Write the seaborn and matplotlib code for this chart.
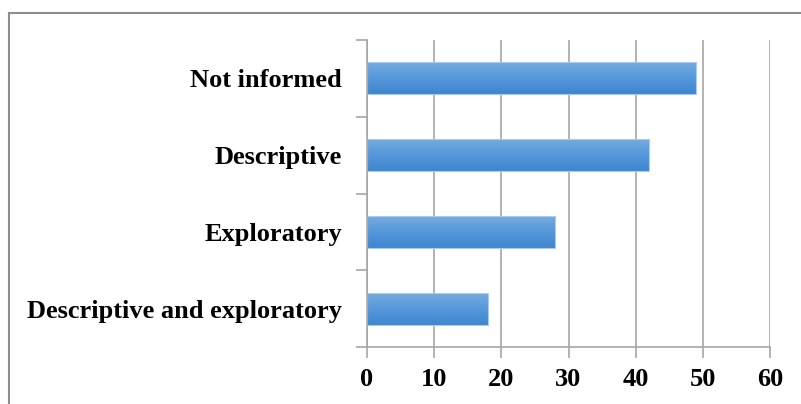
import numpy as np
import pandas as pd
import matplotlib
matplotlib.use("Agg")
import matplotlib.pyplot as plt
from matplotlib.patches import Rectangle
from matplotlib.colors import LinearSegmentedColormap
import seaborn as sns

categories = ["Not informed", "Descriptive", "Exploratory", "Descriptive and exploratory"]
counts = [49, 42, 28, 18]
x_ticks = [0, 10, 20, 30, 40, 50, 60]

df = pd.DataFrame({"category": categories, "count": counts})

sns.set_theme(style="white")
plt.rcParams["font.family"] = ["Liberation Serif", "DejaVu Serif"]

fig = plt.figure(figsize=(8.01, 4.04), dpi=100)
ax = fig.add_axes([367 / 801, 1 - 347 / 404, (770 - 367) / 801, (347 - 40) / 404])

grid_col = "#a6a6a6"
sns.barplot(data=df, x="count", y="category", orient="h", ax=ax,
            color="#4f94d8", width=0.42, edgecolor="#a9cbee", linewidth=0.8,
            saturation=1)

# vertical gradient on each bar, lighter on top
grad = LinearSegmentedColormap.from_list("bar", ["#77acdf", "#5698da", "#3f86cf"])
g = np.linspace(0, 1, 64).reshape(-1, 1)
for p in ax.patches:
    x0, y0 = p.get_x(), p.get_y()
    w, h = p.get_width(), p.get_height()
    im = ax.imshow(g, cmap=grad, aspect="auto", extent=(x0, x0 + w, y0 + h, y0),
                   zorder=p.get_zorder() + 0.1, interpolation="bilinear")
    im.set_clip_path(p)
    p.set_zorder(p.get_zorder() + 0.2)
    p.set_facecolor("none")

ax.set_xlim(0, 60)
ax.set_ylim(len(categories) - 0.5, -0.5)
ax.set_xticks(x_ticks)
ax.set_xticklabels([str(t) for t in x_ticks], fontsize=19, fontweight="bold")
ax.set_yticks(range(len(categories)))
ax.set_yticklabels(categories, fontsize=19, fontweight="bold")
ax.set_yticks(np.arange(-0.5, len(categories), 1.0), minor=True)
ax.set_xlabel("")
ax.set_ylabel("")

ax.xaxis.grid(True, color=grid_col, linewidth=1.2)
ax.yaxis.grid(False)
ax.set_axisbelow(True)

for side in ["top", "right"]:
    ax.spines[side].set_visible(False)
for side in ["left", "bottom"]:
    ax.spines[side].set_color(grid_col)
    ax.spines[side].set_linewidth(1.2)

ax.tick_params(axis="y", which="major", length=0, pad=18, colors="black")
ax.tick_params(axis="y", which="minor", left=True, length=8, width=1.2, color=grid_col)
ax.tick_params(axis="x", which="major", bottom=True, length=8, width=1.2,
               color=grid_col, labelcolor="black", pad=7)

# chart frame
fig.patches.append(Rectangle((8.5 / 801, -0.1), 1.2, 1 - 12.5 / 404 + 0.1,
                             transform=fig.transFigure, fill=False,
                             edgecolor="#8c8c8c", linewidth=1.5))

fig.savefig("out.png", dpi=100)
